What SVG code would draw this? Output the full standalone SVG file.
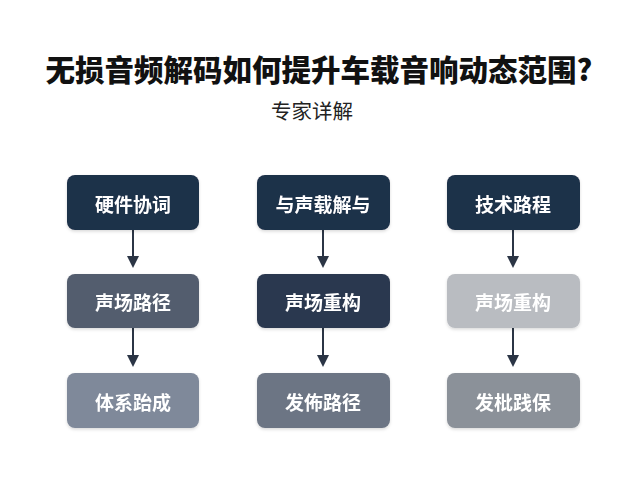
<svg xmlns="http://www.w3.org/2000/svg" width="640" height="480" viewBox="0 0 640 480">
<style>
.title{font-family:"Noto Sans CJK SC","Noto Sans",sans-serif;font-weight:900;font-size:29.5px;fill:#111;text-anchor:middle}
.sub{font-family:"Noto Sans CJK SC","Noto Sans",sans-serif;font-weight:400;font-size:20.5px;fill:#222;text-anchor:middle}
.lbl{font-family:"Noto Sans CJK SC","Noto Sans",sans-serif;font-weight:700;font-size:19px;fill:#ffffff;text-anchor:middle;dominant-baseline:central}
.edge{stroke:#2b3545;stroke-width:2;fill:none}
.head{fill:#2b3545}
.n1{fill:#1f3049}
.n2{fill:#535d6e}
.n3{fill:#7f899a}
.n4{fill:#2c3950}
.n5{fill:#6c7584}
.n6{fill:#b9bcc1}
.n7{fill:#8b9199}
</style>
<defs>
<filter id="sh" x="-10%" y="-10%" width="120%" height="130%">
<feDropShadow dx="0" dy="1.5" stdDeviation="1.5" flood-color="#000" flood-opacity="0.15"/>
</filter>
</defs>
<rect width="640" height="480" fill="#ffffff"/>
<text class="title" x="319" y="81">无损音频解码如何提升车载音响动态范围?</text>
<text class="sub" x="312" y="119">专家详解</text>
<g id="connectors">
<line class="edge" x1="133" y1="230" x2="133" y2="256"/>
<path class="head" d="M127,256 L139,256 L133,268 Z"/>
<line class="edge" x1="133" y1="328" x2="133" y2="355"/>
<path class="head" d="M127,355 L139,355 L133,367 Z"/>
<line class="edge" x1="323" y1="230" x2="323" y2="256"/>
<path class="head" d="M317,256 L329,256 L323,268 Z"/>
<line class="edge" x1="323" y1="328" x2="323" y2="355"/>
<path class="head" d="M317,355 L329,355 L323,367 Z"/>
<line class="edge" x1="513" y1="230" x2="513" y2="256"/>
<path class="head" d="M507,256 L519,256 L513,268 Z"/>
<line class="edge" x1="513" y1="328" x2="513" y2="355"/>
<path class="head" d="M507,355 L519,355 L513,367 Z"/>
</g>
<g id="n-c1r1" filter="url(#sh)"><rect class="n1" x="67" y="175" width="132" height="55" rx="8"/><text class="lbl" x="133" y="203">硬件协词</text></g>
<g id="n-c1r2" filter="url(#sh)"><rect class="n2" x="67" y="274" width="132" height="54" rx="8"/><text class="lbl" x="133" y="301">声场路径</text></g>
<g id="n-c1r3" filter="url(#sh)"><rect class="n3" x="67" y="373" width="132" height="55" rx="8"/><text class="lbl" x="133" y="401">体系跆成</text></g>
<g id="n-c2r1" filter="url(#sh)"><rect class="n1" x="257" y="175" width="133" height="55" rx="8"/><text class="lbl" x="323" y="203">与声载解与</text></g>
<g id="n-c2r2" filter="url(#sh)"><rect class="n4" x="257" y="274" width="133" height="54" rx="8"/><text class="lbl" x="323" y="301">声场重构</text></g>
<g id="n-c2r3" filter="url(#sh)"><rect class="n5" x="257" y="373" width="133" height="55" rx="8"/><text class="lbl" x="323" y="401">发佈路径</text></g>
<g id="n-c3r1" filter="url(#sh)"><rect class="n1" x="447" y="175" width="133" height="55" rx="8"/><text class="lbl" x="513" y="203">技术路程</text></g>
<g id="n-c3r2" filter="url(#sh)"><rect class="n6" x="447" y="274" width="133" height="54" rx="8"/><text class="lbl" x="513" y="301">声场重构</text></g>
<g id="n-c3r3" filter="url(#sh)"><rect class="n7" x="447" y="373" width="133" height="55" rx="8"/><text class="lbl" x="513" y="401">发枇践保</text></g>
</svg>
